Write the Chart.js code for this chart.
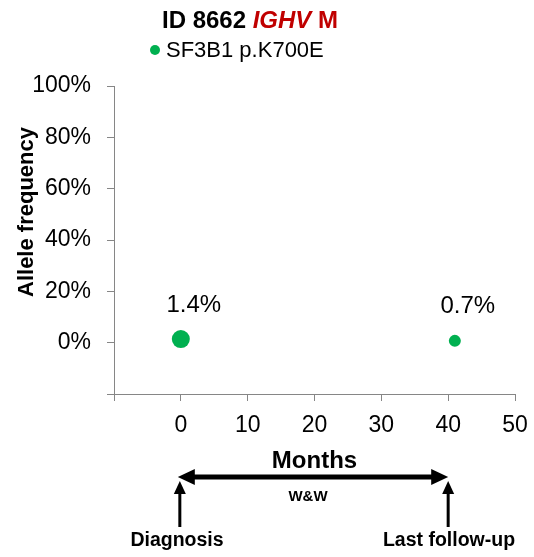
<!DOCTYPE html>
<html>
<head>
<meta charset="utf-8">
<title>ID 8662</title>
<script src="https://cdn.jsdelivr.net/npm/chart.js@4.4.0/dist/chart.umd.min.js"></script>
<style>
    html, body { margin: 0; padding: 0; background: #fff; }
    #wrap { width: 534px; height: 557px; }
</style>
</head>
<body>
<div id="wrap"><canvas id="vafChart" width="534" height="557"></canvas></div>
<script>
// Variant allele frequency over follow-up
const months = [0, 41];
const alleleFreq = [1.4, 0.7];
const mutationName = 'SF3B1 p.K700E';
const yTicks = [-20, 0, 20, 40, 60, 80, 100];
const xTicks = [-10, 0, 10, 20, 30, 40, 50];

// Clinical timeline under the x axis
const eventMonths = [0, 40];
const eventLabels = ['Diagnosis', 'Last follow-up'];
const phaseLabel = 'W&W';

const FONT = '"Liberation Sans", Arial, sans-serif';
const GREEN = '#00B050';
const RED = '#C00000';
const AXIS = '#868686';

// Title with mixed styles, legend entry and y title
const titlePlugin = {
    id: 'mixedTitle',
    afterDraw(chart) {
        const ctx = chart.ctx;
        const parts = [
            { text: 'ID 8662 ', font: 'bold 24px ' + FONT, color: '#000' },
            { text: 'IGHV', font: 'italic bold 24px ' + FONT, color: RED },
            { text: ' M', font: 'bold 24px ' + FONT, color: RED }
        ];
        ctx.save();
        let total = 0;
        parts.forEach(p => { ctx.font = p.font; total += ctx.measureText(p.text).width; });
        let x = 250 - total / 2;
        ctx.textBaseline = 'alphabetic';
        parts.forEach(p => {
            ctx.font = p.font;
            ctx.fillStyle = p.color;
            ctx.fillText(p.text, x, 28);
            x += ctx.measureText(p.text).width;
        });

        ctx.fillStyle = GREEN;
        ctx.beginPath();
        ctx.arc(155, 50, 5, 0, Math.PI * 2);
        ctx.fill();
        ctx.fillStyle = '#000';
        ctx.font = '22px ' + FONT;
        ctx.textBaseline = 'middle';
        ctx.fillText(mutationName, 166, 51);

        ctx.save();
        ctx.translate(27, 212);
        ctx.rotate(-Math.PI / 2);
        ctx.font = 'bold 22px ' + FONT;
        ctx.textAlign = 'center';
        ctx.fillText('Allele frequency', 0, 0);
        ctx.restore();
        ctx.restore();
    }
};

// Value labels above each point
const valueLabelPlugin = {
    id: 'valueLabels',
    afterDatasetsDraw(chart) {
        const ctx = chart.ctx;
        const meta = chart.getDatasetMeta(0);
        ctx.save();
        ctx.font = '24px ' + FONT;
        ctx.fillStyle = '#000';
        ctx.textAlign = 'center';
        ctx.textBaseline = 'middle';
        meta.data.forEach((pt, i) => {
            ctx.fillText(alleleFreq[i].toFixed(1) + '%', pt.x + 13, pt.y - 34);
        });
        ctx.restore();
    }
};

// Months title and the timeline arrows
const timelinePlugin = {
    id: 'timeline',
    afterDraw(chart) {
        const ctx = chart.ctx;
        const xs = chart.scales.x;
        const x0 = xs.getPixelForValue(eventMonths[0]) - 3;
        const x1 = xs.getPixelForValue(eventMonths[1]);
        ctx.save();
        ctx.fillStyle = '#000';
        ctx.strokeStyle = '#000';

        ctx.font = 'bold 24px ' + FONT;
        ctx.textAlign = 'center';
        ctx.textBaseline = 'middle';
        ctx.fillText('Months', (xs.left + xs.right) / 2, 461);

        // double-headed arrow
        const ay = 477;
        ctx.lineWidth = 5;
        ctx.beginPath();
        ctx.moveTo(x0 + 14, ay);
        ctx.lineTo(x1 - 14, ay);
        ctx.stroke();
        ctx.beginPath();
        ctx.moveTo(x0, ay);
        ctx.lineTo(x0 + 17, ay - 8);
        ctx.lineTo(x0 + 17, ay + 8);
        ctx.closePath();
        ctx.fill();
        ctx.beginPath();
        ctx.moveTo(x1, ay);
        ctx.lineTo(x1 - 17, ay - 8);
        ctx.lineTo(x1 - 17, ay + 8);
        ctx.closePath();
        ctx.fill();

        ctx.font = 'bold 15px ' + FONT;
        ctx.fillText(phaseLabel, 308, 497);

        // event arrows pointing up
        eventMonths.forEach((m, i) => {
            const ex = xs.getPixelForValue(m) - (i === 0 ? 1 : 0);
            ctx.lineWidth = 3;
            ctx.beginPath();
            ctx.moveTo(ex, 527);
            ctx.lineTo(ex, 490);
            ctx.stroke();
            ctx.beginPath();
            ctx.moveTo(ex, 481);
            ctx.lineTo(ex - 6, 494);
            ctx.lineTo(ex + 6, 494);
            ctx.closePath();
            ctx.fill();
            ctx.font = 'bold 19.5px ' + FONT;
            ctx.fillText(eventLabels[i], i === 0 ? 177 : 449, 541);
        });
        ctx.restore();
    }
};

new Chart(document.getElementById('vafChart'), {
    type: 'scatter',
    data: {
        datasets: [{
            label: mutationName,
            data: months.map((m, i) => ({ x: m, y: alleleFreq[i] })),
            backgroundColor: GREEN,
            borderColor: GREEN,
            pointRadius: [9, 6],
            pointBorderWidth: 0
        }]
    },
    options: {
        responsive: false,
        animation: false,
        layout: { padding: { top: 86, right: 19, bottom: 0, left: 0 } },
        plugins: {
            legend: { display: false },
            title: { display: false },
            tooltip: { enabled: false }
        },
        scales: {
            x: {
                type: 'linear',
                min: -10,
                max: 50,
                afterBuildTicks: s => { s.ticks = xTicks.map(v => ({ value: v })); },
                afterFit: s => {
                    s.height = 163;
                    s.paddingLeft = 0;
                    s.paddingRight = 0;
                },
                ticks: {
                    font: { family: FONT, size: 23 },
                    color: '#000',
                    padding: 11,
                    maxRotation: 0,
                    callback: v => (v < 0 ? '' : v)
                },
                grid: { drawOnChartArea: false, drawTicks: true, tickLength: 7, color: AXIS },
                border: { display: true, color: AXIS, width: 1 }
            },
            y: {
                type: 'linear',
                min: -20,
                max: 100,
                afterBuildTicks: s => { s.ticks = yTicks.map(v => ({ value: v })); },
                afterFit: s => { s.width = 114; },
                ticks: {
                    font: { family: FONT, size: 23 },
                    color: '#000',
                    padding: 16,
                    callback: v => (v < 0 ? '' : v + '%')
                },
                grid: { drawOnChartArea: false, drawTicks: true, tickLength: 7, color: AXIS },
                border: { display: true, color: AXIS, width: 1 }
            }
        }
    },
    plugins: [titlePlugin, valueLabelPlugin, timelinePlugin]
});
</script>
</body>
</html>
